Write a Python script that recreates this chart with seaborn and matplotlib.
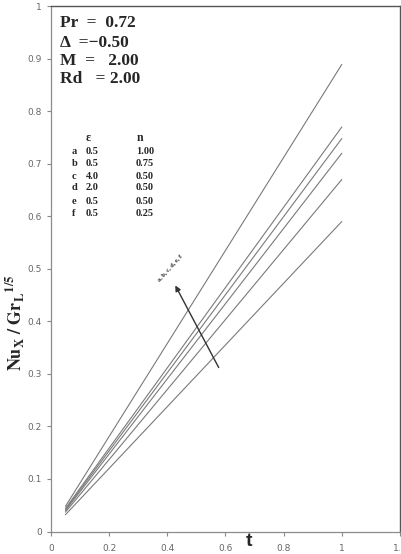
import matplotlib
matplotlib.use("Agg")
import matplotlib.pyplot as plt
import seaborn as sns
import pandas as pd

# Data
curves = ["a", "b", "c", "d", "e", "f"]
t_start = 0.05
t_end = 1.0
start_vals = [0.048, 0.044, 0.042, 0.040, 0.037, 0.032]
end_vals = [0.889, 0.770, 0.748, 0.720, 0.670, 0.590]

eps_vals = ["0.5", "0.5", "4.0", "2.0", "0.5", "0.5"]
n_vals = ["1.00", "0.75", "0.50", "0.50", "0.50", "0.25"]

x_ticks = [0, 0.2, 0.4, 0.6, 0.8, 1, 1.2]
x_tick_labels = ["0", "0.2", "0.4", "0.6", "0.8", "1", "1.2"]
y_ticks = [0, 0.1, 0.2, 0.3, 0.4, 0.5, 0.6, 0.7, 0.8, 0.9, 1]
y_tick_labels = ["0", "0.1", "0.2", "0.3", "0.4", "0.5", "0.6", "0.7", "0.8", "0.9", "1"]

params = ["Pr  =  0.72", "Δ  =\u22120.50", "M  =   2.00", "Rd   = 2.00"]

rows = []
for c, s, e in zip(curves, start_vals, end_vals):
    rows.append({"curve": c, "t": t_start, "v": s})
    rows.append({"curve": c, "t": t_end, "v": e})
df = pd.DataFrame(rows)

sns.set_theme(style="white")
plt.rcParams["font.family"] = ["DejaVu Sans"]

fig = plt.figure(figsize=(4.01, 5.54), dpi=100)
ax = fig.add_axes([0.127, 0.0406, 0.8705, 0.9484])

sns.lineplot(data=df, x="t", y="v", hue="curve", palette=["#7a7a7a"] * 6,
             legend=False, linewidth=0.8, ax=ax)

ax.set_xlim(0, 1.2)
ax.set_ylim(0, 1)
ax.set_xticks(x_ticks)
ax.set_xticklabels(x_tick_labels)
ax.set_yticks(y_ticks)
ax.set_yticklabels(y_tick_labels)
ax.tick_params(axis="both", labelsize=6.5, labelcolor="#666666", color="#888888",
               length=3, width=0.8, direction="out", left=True, bottom=True)
ax.tick_params(axis="x", pad=6)
ax.set_xlabel("")
ax.set_ylabel("")
for side in ["left", "bottom"]:
    ax.spines[side].set_color("#8c8c8c")
    ax.spines[side].set_linewidth(0.9)
for side in ["top", "right"]:
    ax.spines[side].set_color("#555555")
    ax.spines[side].set_linewidth(1.0)

serif = ["Liberation Serif", "DejaVu Serif"]

# parameter block
ys = [23, 43, 61, 79]
for txt, yp in zip(params, ys):
    fig.text(60 / 401, 1 - yp / 554, txt, fontsize=12.5, fontweight="bold",
             family=serif, va="center", ha="left")

# table
fig.text(86 / 401, 1 - 138 / 554, "ε", fontsize=8.5, fontweight="bold", family=serif, va="center")
fig.text(137 / 401, 1 - 138 / 554, "n", fontsize=8.5, fontweight="bold", family=serif, va="center")
row_y = [152, 164, 176, 188, 201, 213]
for c, e, n, yp in zip(curves, eps_vals, n_vals, row_y):
    fig.text(72 / 401, 1 - yp / 554, c, fontsize=7.5, fontweight="bold", family=serif, va="center")
    fig.text(86 / 401, 1 - yp / 554, e, fontsize=7.5, fontweight="bold", family=serif, va="center")
    fig.text(136 / 401, 1 - yp / 554, n, fontsize=7.5, fontweight="bold", family=serif, va="center")

# arrow
def px2data(px, py):
    inv = ax.transData.inverted()
    return inv.transform((px, 554 - py))

tail = px2data(220, 370)
head = px2data(174, 283)
ax.annotate("", xy=head, xytext=tail,
            arrowprops=dict(arrowstyle="-|>", color="#333333", lw=1.0,
                            mutation_scale=8))
lbl = px2data(170, 268)
ax.text(lbl[0], lbl[1], "a, b, c, d, e, f", fontsize=4.5, fontweight="bold",
        family=serif, rotation=48, ha="center", va="center")

# axis labels
fig.text(15 / 401, 1 - 323 / 554, r"$\mathbf{Nu_X\ /\ Gr_L{}^{1/5}}$", fontsize=13,
         rotation=90, ha="center", va="center", family=serif,
         math_fontfamily="stix")
fig.text(249 / 401, 1 - 542 / 554, "t", fontsize=14, fontweight="bold",
         family=["Liberation Sans", "DejaVu Sans"], ha="center", va="center")

fig.savefig("out.png", dpi=100)
